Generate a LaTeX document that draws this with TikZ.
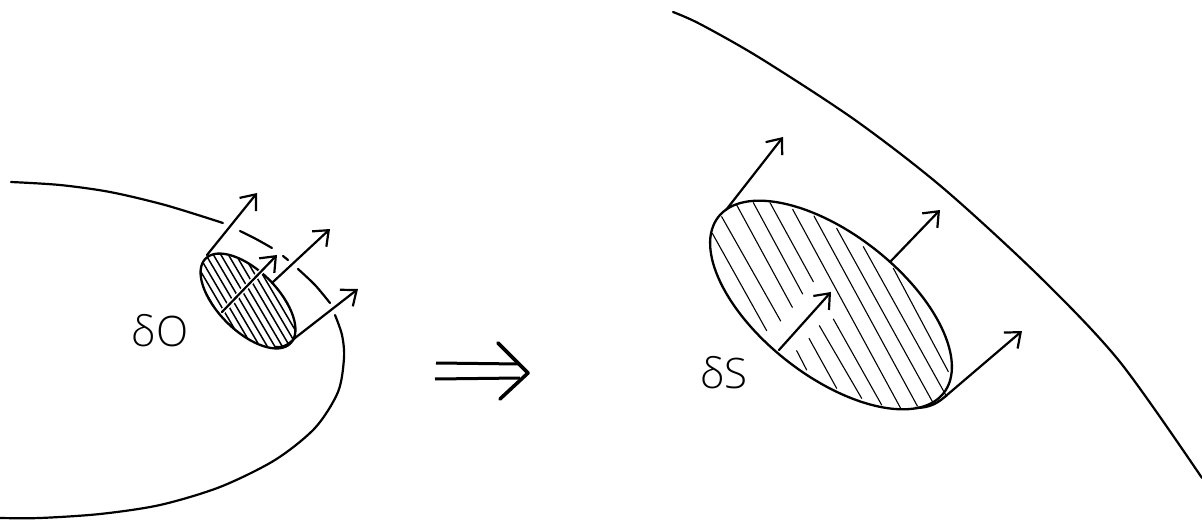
\documentclass[tikz,border=0pt]{standalone}
\usepackage{fontspec}
\setmainfont{Open Sans}[UprightFont=* Light]
\usetikzlibrary{arrows.meta,calc}
\tikzset{
 curveline/.style={line width=2.2pt,line cap=round,line join=round},
 rim/.style={line width=2.3pt,line join=round},
 normalarrow/.style={line width=2.2pt,line cap=round,-{Straight Barb[length=13pt,width=21pt,line width=2.2pt]}},
 hatchfine/.style={line width=1.1pt,line cap=round},
 hatchdense/.style={line width=1.5pt},
 handlabel/.style={font=\fontsize{42}{42}\selectfont,inner sep=0pt,anchor=center}
}
\begin{document}
\begin{tikzpicture}[x=1pt,y=-1pt]
\useasboundingbox (0,0) rectangle (1202,521);
% left curve
\draw[curveline] plot[smooth] coordinates {(11,182) (60,185) (110,192) (165,205) (223,223)};
\draw[curveline] plot[smooth] coordinates {(240,231) (256,239) (272,248)};
\draw[curveline] (283,256) -- (288,260);
\draw[curveline] plot[smooth] coordinates {(298,269) (315,285) (330,303)};
\draw[curveline] plot[smooth] coordinates {(335,315) (342,335) (344,358) (338,392) (315,428) (275,460) (220,487) (160,505) (100,514) (40,518) (0,518)};
% right curve
\draw[curveline] plot[smooth] coordinates {(673,12) (700,24) (760,58) (855,120) (943,188) (1040,277) (1120,362) (1202,478)};
% left disk hatching
\begin{scope}
\clip (248,301) ellipse [x radius=60,y radius=30,rotate=-45];
\foreach \x in {180,187.5,...,320}
 \draw[hatchdense] ({\x-40},{300-68}) -- ({\x+40},{300+68});
\end{scope}
\draw[rim] (248,301) ellipse [x radius=60,y radius=30,rotate=-45];
% right disk
\foreach \a/\b/\c/\d in {157/340/320/632,185/290/362/603,230/255/397/562,280/248/428/522,330/248/460/485,
410/692/440/750,447/655/530/805,478/617/605/835,520/597/665/855,398/268/722/865,462/288/772/858,530/325/820/850,610/380/860/830,700/445/865/755}
 \draw[hatchfine] ({660+\a/3},{120+\b/3}) -- ({660+\c/3},{120+\d/3});
\draw[rim] (831,305) ellipse [x radius=143,y radius=71,rotate=-38];
% arrows left
\coordinate (la1) at (207,255); \coordinate (lb1) at (257,193);
\coordinate (la2) at (222,312); \coordinate (lb2) at (277,255);
\coordinate (la3) at (273,282); \coordinate (lb3) at (330,229);
\coordinate (la4) at (295,338); \coordinate (lb4) at (358,289);
\draw[white,line width=5pt] (la2) -- ($(lb2)!0.1!(la2)$);
\foreach \n in {1,2,3,4} \draw[normalarrow] (la\n) -- (lb\n);
% arrows right
\coordinate (ra1) at (726,210); \coordinate (rb1) at (783,137);
\coordinate (ra2) at (890,262); \coordinate (rb2) at (940,210);
\coordinate (ra3) at (779,350); \coordinate (rb3) at (831,292);
\coordinate (ra4) at (947,395); \coordinate (rb4) at (1022,331);
\foreach \n in {1,2,3,4} \draw[normalarrow] (ra\n) -- (rb\n);
\draw[rim] (915,408) .. controls (930,408) and (938,403) .. (ra4);
\draw[rim] (275,347) .. controls (285,348) and (290,343) .. (la4);
% implication arrow
\coordinate (ia) at (436,363); \coordinate (ib) at (520,364);
\coordinate (ic) at (435,379); \coordinate (id) at (520,378);
\draw[line width=3pt] (ia) -- (ib);
\draw[line width=3pt] (ic) -- (id);
\draw[line width=3.6pt,line cap=round,line join=round] (498,343) -- (528,373) -- (500,399);
% labels
\node[handlabel] (labelO) at (160,331) {δO};
\node[handlabel] (labelS) at (724,373) {δS};
\end{tikzpicture}
\end{document}
